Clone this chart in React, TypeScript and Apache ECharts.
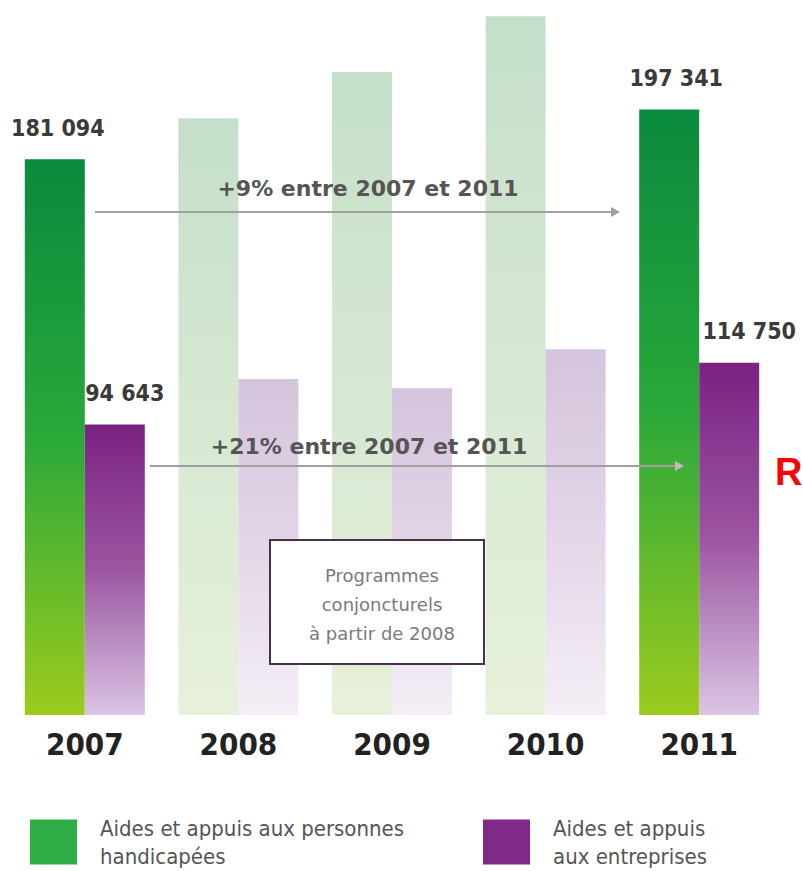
import React, { useEffect, useRef } from "react";
import * as echarts from "echarts";

const years = ["2007", "2008", "2009", "2010", "2011"];
const personnesHandicapees = [181094, 194500, 209500, 227700, 197341];
const entreprises = [94643, 109500, 106500, 119200, 114750];
const highlighted = [true, false, false, false, true];
const seriesNames = [
  "Aides et appuis aux personnes\nhandicapées",
  "Aides et appuis\naux entreprises",
];
const arrowTexts = ["+9% entre 2007 et 2011", "+21% entre 2007 et 2011"];
const boxLines = ["Programmes", "conjoncturels", "à partir de 2008"];

const fmt = (v: number) =>
  String(v).replace(/\B(?=(\d{3})+(?!\d))/g, " ");

const grad = (top: string, mid: string, bottom: string) =>
  new echarts.graphic.LinearGradient(0, 0, 0, 1, [
    { offset: 0, color: top },
    { offset: 0.5, color: mid },
    { offset: 1, color: bottom },
  ]);

const COND = "'DejaVu Sans Condensed', 'DejaVu Sans', sans-serif";
const SANS = "'DejaVu Sans', sans-serif";

export default function App() {
  const ref = useRef<HTMLDivElement>(null);
  useEffect(() => {
    if (!ref.current) return;
    const chart = echarts.init(ref.current, undefined, { renderer: "svg" });

    const mkData = (
      values: number[],
      strong: () => any,
      faded: () => any,
      offsets: number[]
    ) =>
      values.map((v, i) => ({
        value: v,
        itemStyle: { color: highlighted[i] ? strong() : faded() },
        label: {
          show: highlighted[i],
          position: "top",
          distance: 20,
          offset: [offsets[i], 0],
          formatter: () => fmt(v),
          fontFamily: COND,
          fontWeight: "bold",
          fontSize: 23,
          color: "#3a3a3a",
        },
      }));

    const greenStrong = () => grad("#0a8a3e", "#2aa83a", "#9dcb1e");
    const greenFaded = () => grad("#c5dfca", "#d6e8d2", "#e8f1da");
    const purpleStrong = () => grad("#7a2281", "#9c56a2", "#dac5e4");
    const purpleFaded = () => grad("#d4c4dc", "#e3d6e8", "#f4eef6");

    const legendText = {
      fontFamily: COND,
      fontSize: 22,
      color: "#555555",
      lineHeight: 28,
      padding: [0, 0, 0, 18],
    };

    chart.setOption({
      animation: false,
      backgroundColor: "#ffffff",
      grid: { left: 8, right: 27, top: 0, bottom: 156 },
      xAxis: {
        type: "category",
        data: years,
        axisLine: { show: false },
        axisTick: { show: false },
        axisLabel: {
          margin: 13,
          fontFamily: COND,
          fontWeight: "bold",
          fontSize: 31,
          color: "#222222",
        },
      },
      yAxis: { type: "value", min: 0, max: 233000, show: false },
      legend: [
        {
          left: 25,
          top: 809,
          itemWidth: 47,
          itemHeight: 45,
          icon: "rect",
          selectedMode: false,
          data: [{ name: seriesNames[0], itemStyle: { color: "#31ad48" } }],
          textStyle: legendText,
        },
        {
          left: 478,
          top: 809,
          itemWidth: 47,
          itemHeight: 45,
          icon: "rect",
          selectedMode: false,
          data: [{ name: seriesNames[1], itemStyle: { color: "#7e2a86" } }],
          textStyle: legendText,
        },
      ],
      series: [
        {
          name: seriesNames[0],
          type: "bar",
          barWidth: 60,
          barGap: "0%",
          data: mkData(personnesHandicapees, greenStrong, greenFaded, [3, 0, 0, 0, 7]),
        },
        {
          name: seriesNames[1],
          type: "bar",
          barWidth: 60,
          barGap: "0%",
          data: mkData(entreprises, purpleStrong, purpleFaded, [10, 0, 0, 0, 20]),
        },
      ],
      graphic: [
        {
          type: "line",
          z: 100,
          shape: { x1: 95, y1: 212, x2: 612, y2: 212 },
          style: { stroke: "#a0a0a0", lineWidth: 2 },
        },
        {
          type: "polygon",
          z: 100,
          shape: { points: [[611, 207], [620, 212], [611, 217]] },
          style: { fill: "#a0a0a0" },
        },
        {
          type: "text",
          z: 100,
          x: 368,
          y: 188,
          style: {
            text: arrowTexts[0],
            align: "center",
            verticalAlign: "middle",
            fontFamily: SANS,
            fontWeight: "bold",
            fontSize: 22,
            fill: "#555555",
          },
        },
        {
          type: "line",
          z: 100,
          shape: { x1: 150, y1: 466, x2: 676, y2: 466 },
          style: { stroke: "#a0a0a0", lineWidth: 2 },
        },
        {
          type: "polygon",
          z: 100,
          shape: { points: [[675, 461], [684, 466], [675, 471]] },
          style: { fill: "#bdbdbd" },
        },
        {
          type: "text",
          z: 100,
          x: 369,
          y: 446,
          style: {
            text: arrowTexts[1],
            align: "center",
            verticalAlign: "middle",
            fontFamily: SANS,
            fontWeight: "bold",
            fontSize: 22,
            fill: "#555555",
          },
        },
        {
          type: "rect",
          z: 100,
          shape: { x: 270, y: 540, width: 214, height: 124 },
          style: { fill: "#ffffff", stroke: "#4a3048", lineWidth: 2 },
        },
        ...boxLines.map((t, i) => ({
          type: "text",
          z: 101,
          x: 382,
          y: 575 + i * 29,
          style: {
            text: t,
            align: "center",
            verticalAlign: "middle",
            fontFamily: SANS,
            fontSize: 18,
            fill: "#7a7a7a",
          },
        })),
        {
          type: "text",
          z: 100,
          x: 775,
          y: 472,
          style: {
            text: "R",
            align: "left",
            verticalAlign: "middle",
            fontFamily: "'Liberation Sans', Arial, sans-serif",
            fontWeight: "bold",
            fontSize: 38,
            fill: "#ff0000",
          },
        },
      ],
    });
    return () => chart.dispose();
  }, []);

  return (
    <div
      ref={ref}
      style={{ position: "fixed", left: 0, top: 0, width: 803, height: 871 }}
    />
  );
}
